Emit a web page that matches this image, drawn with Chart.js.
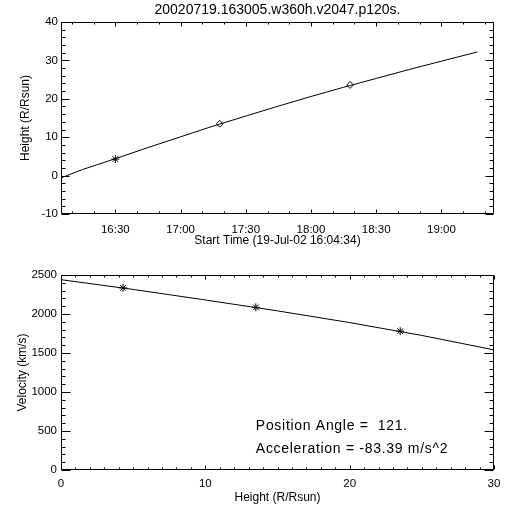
<!DOCTYPE html>
<html><head><meta charset="utf-8">
<script src="https://cdn.jsdelivr.net/npm/chart.js@4/dist/chart.umd.min.js"></script>
<style>html,body{margin:0;padding:0;background:#fff;width:512px;height:512px;overflow:hidden} canvas{display:block;position:absolute;left:0;}</style>
</head><body>
<canvas id="c1" width="512" height="256" style="top:0"></canvas>
<canvas id="c2" width="512" height="256" style="top:256px"></canvas>
<script>
// ---------- data ----------
const chartTitle = '20020719.163005.w360h.v2047.p120s.';
const topXTitle = 'Start Time (19-Jul-02 16:04:34)';
const topYTitle = 'Height (R/Rsun)';
const botXTitle = 'Height (R/Rsun)';
const botYTitle = 'Velocity (km/s)';
const timeTickLabels = ['16:30', '17:00', '17:30', '18:00', '18:30', '19:00'];

// fitted height-time curve
const fitTimes   = ['16:05', '16:15', '16:30', '16:45', '17:00', '17:15', '17:30', '17:45', '18:00', '18:15', '18:30', '18:45', '19:00', '19:16.6'];
const fitHeights = [-0.6, 1.6, 4.4, 7.3, 10.1, 12.9, 15.5, 18.1, 20.6, 23.0, 25.3, 27.6, 29.8, 32.2];

// measured points
const obsTimes   = ['16:30', '17:18', '18:18'];
const obsHeights = [4.3, 13.5, 23.6];
const obsStyles  = ['star', 'rectRot', 'rectRot'];

// fitted velocity-height curve
const velFitHeights = [0, 5, 10, 15, 20, 25, 30];
const velFitValues  = [2440, 2315, 2180, 2040, 1890, 1725, 1540];

// measured velocities
const velObsHeights = [4.3, 13.5, 23.5];
const velObsValues  = [2335, 2085, 1780];

const annotationLines = ['Position Angle =  121.', 'Acceleration = -83.39 m/s^2'];

// ---------- helpers ----------
const toMin = s => { const [h, m] = s.split(':'); return (Number(h) - 16) * 60 + Number(m); };
const fmtTime = v => { const h = 16 + Math.floor(v / 60); const m = Math.round(v % 60); return h + ':' + String(m).padStart(2, '0'); };
const FONT = '"Liberation Sans", Arial, sans-serif';

const idlBox = {
  id: 'idlBox',
  afterDatasetsDraw(chart, args, o) {
    const { ctx, chartArea: a, scales: { x, y } } = chart;
    ctx.save();
    ctx.strokeStyle = '#000';
    ctx.lineWidth = 1;
    const L = Math.round(a.left) + 0.5, R = Math.round(a.right) - 0.5;
    const T = Math.round(a.top) + 0.5, B = Math.round(a.bottom) - 0.5;
    ctx.beginPath();
    ctx.rect(L, T, R - L, B - T);
    const xt = (v, len) => { const p = Math.round(x.getPixelForValue(v)) + 0.5; ctx.moveTo(p, B); ctx.lineTo(p, B - len); ctx.moveTo(p, T); ctx.lineTo(p, T + len); };
    const yt = (v, len) => { const p = Math.round(y.getPixelForValue(v)) + 0.5; ctx.moveTo(L, p); ctx.lineTo(L + len, p); ctx.moveTo(R, p); ctx.lineTo(R - len, p); };
    const eps = 1e-6;
    for (let v = Math.ceil(x.min / o.xMinor - eps) * o.xMinor; v <= x.max + eps; v += o.xMinor) {
      const major = Math.abs(v / o.xMajor - Math.round(v / o.xMajor)) < eps;
      xt(v, major ? o.xMajorLen : o.xMinorLen);
    }
    for (let v = Math.ceil(y.min / o.yMinor - eps) * o.yMinor; v <= y.max + eps; v += o.yMinor) {
      const major = Math.abs(v / o.yMajor - Math.round(v / o.yMajor)) < eps;
      yt(v, major ? o.yMajorLen : o.yMinorLen);
    }
    ctx.stroke();
    ctx.restore();
  }
};

const annot = {
  id: 'annot',
  afterDraw(chart, args, o) {
    if (!o.lines) return;
    const { ctx, scales: { x, y } } = chart;
    ctx.save();
    ctx.fillStyle = '#000';
    ctx.font = o.font;
    if ('letterSpacing' in ctx) ctx.letterSpacing = o.spacing;
    ctx.textAlign = 'left';
    ctx.textBaseline = 'middle';
    o.lines.forEach((t, i) => ctx.fillText(t, x.getPixelForValue(o.x), y.getPixelForValue(o.y[i])));
    ctx.restore();
  }
};

Chart.defaults.font.family = FONT;
Chart.defaults.color = '#000';

const noGrid = { display: false, drawTicks: false };

// ---------- top chart ----------
new Chart(document.getElementById('c1'), {
  type: 'scatter',
  data: {
    datasets: [
      { data: fitTimes.map((t, i) => ({ x: toMin(t), y: fitHeights[i] })), showLine: true, borderColor: '#000', borderWidth: 1, pointRadius: 0, fill: false },
      { data: obsTimes.map((t, i) => ({ x: toMin(t), y: obsHeights[i] })), showLine: false, pointStyle: obsStyles, pointRadius: [4, 3.4, 3.4], borderColor: '#000', pointBorderColor: '#000', pointBackgroundColor: '#fff', pointBorderWidth: 1 }
    ]
  },
  plugins: [idlBox],
  options: {
    responsive: false, animation: false, devicePixelRatio: 1,
    layout: { padding: { left: 0, right: 18, top: 0, bottom: 0 } },
    plugins: {
      legend: { display: false }, tooltip: { enabled: false },
      title: { display: true, text: chartTitle, fullSize: false, font: { size: 14, weight: 'normal' }, padding: { top: 1.6, bottom: 3.6 }, color: '#000' },
      idlBox: { xMajor: 30, xMinor: 10, xMajorLen: 4, xMinorLen: 2, yMajor: 10, yMinor: 2, yMajorLen: 8, yMinorLen: 4 }
    },
    scales: {
      x: {
        type: 'linear', min: 5.0, max: 204.2,
        grid: noGrid, border: { display: false },
        afterBuildTicks: s => { s.ticks = timeTickLabels.map(t => ({ value: toMin(t) })); },
        ticks: { autoSkip: false, maxRotation: 0, padding: 9, font: { size: 11.5 }, callback: v => fmtTime(v) },
        title: { display: true, text: topXTitle, font: { size: 12 }, padding: { top: 0, bottom: 7.8 } },
        afterFit: s => { s.height = 42; }
      },
      y: {
        min: -10, max: 40,
        grid: noGrid, border: { display: false },
        ticks: { stepSize: 10, padding: 3, font: { size: 11.5 }, callback: v => String(v) },
        title: { display: true, text: topYTitle, font: { size: 12 }, padding: { top: 18.6, bottom: 0 } },
        afterFit: s => { s.width = 61; }
      }
    }
  }
});

// ---------- bottom chart ----------
new Chart(document.getElementById('c2'), {
  type: 'scatter',
  data: {
    datasets: [
      { data: velFitHeights.map((h, i) => ({ x: h, y: velFitValues[i] })), showLine: true, borderColor: '#000', borderWidth: 1, pointRadius: 0, fill: false },
      { data: velObsHeights.map((h, i) => ({ x: h, y: velObsValues[i] })), showLine: false, pointStyle: 'star', pointRadius: 4, borderColor: '#000', pointBorderColor: '#000', pointBorderWidth: 1 }
    ]
  },
  plugins: [idlBox, annot],
  options: {
    responsive: false, animation: false, devicePixelRatio: 1,
    layout: { padding: { left: 0, right: 18, top: 19, bottom: 0 } },
    plugins: {
      legend: { display: false }, tooltip: { enabled: false },
      idlBox: { xMajor: 10, xMinor: 1, xMajorLen: 4, xMinorLen: 2, yMajor: 500, yMinor: 100, yMajorLen: 9, yMinorLen: 4 },
      annot: { lines: annotationLines, x: 13.5, y: [558, 264], font: '14px ' + FONT, spacing: '0.7px' }
    },
    scales: {
      x: {
        type: 'linear', min: 0, max: 30,
        grid: noGrid, border: { display: false },
        ticks: { stepSize: 10, autoSkip: false, maxRotation: 0, padding: 6.5, font: { size: 11.5 }, callback: v => String(v) },
        title: { display: true, text: botXTitle, font: { size: 12 }, padding: { top: 0, bottom: 6.8 } },
        afterFit: s => { s.height = 42; }
      },
      y: {
        min: 0, max: 2500,
        grid: noGrid, border: { display: false },
        ticks: { stepSize: 500, padding: 4, font: { size: 11.5 }, callback: v => String(v) },
        title: { display: true, text: botYTitle, font: { size: 12 }, padding: { top: 15, bottom: 0 } },
        afterFit: s => { s.width = 61; }
      }
    }
  }
});
</script>
</body></html>
